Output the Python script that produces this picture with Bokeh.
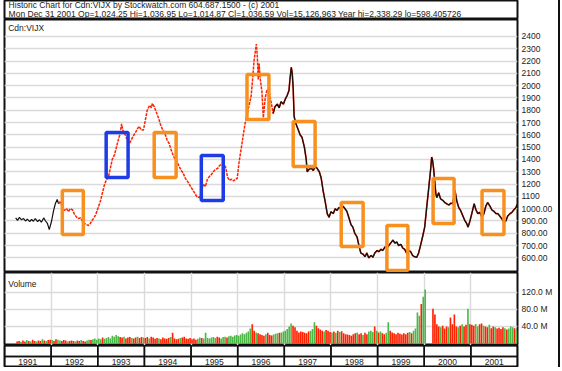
from bokeh.plotting import figure
from bokeh.layouts import column
from bokeh.models import Range1d, FixedTicker
from bokeh.embed import file_html
from bokeh.resources import INLINE
from bokeh.core.properties import value

# ---------------- data ----------------
title_lines = [
    "Historic Chart for Cdn:VIJX by Stockwatch.com 604.687.1500 - (c) 2001",
    "Mon Dec 31 2001  Op=1,024.25  Hi=1,036.95  Lo=1,014.87  Cl=1,036.59  Vol=15,126,963  Year hi=2,338.29  lo=598.405726",
]
symbol = "Cdn:VIJX"
volume_title = "Volume"
years = [1991, 1992, 1993, 1994, 1995, 1996, 1997, 1998, 1999, 2000, 2001]
year_labels = ["1991", "1992", "1993", "1994", "1995", "1996", "1997", "1998", "1999", "2000", "2001"]

price_ticks = [600, 700, 800, 900, 1000, 1100, 1200, 1300, 1400, 1500, 1600,
               1700, 1800, 1900, 2000, 2100, 2200, 2300, 2400]
price_tick_labels = ["600.00", "700.00", "800.00", "900.00", "1000.00", "1100", "1200",
                     "1300", "1400", "1500", "1600", "1700", "1800", "1900", "2000",
                     "2100", "2200", "2300", "2400"]
vol_ticks = [40, 80, 120]           # millions
vol_tick_labels = ["40.0 M", "80.0 M", "120.0 M"]

price_dates = [
    1991.24, 1991.28, 1991.32, 1991.36, 1991.41, 1991.45, 1991.49, 1991.54, 1991.58, 1991.62, 1991.66, 1991.71, 1991.75, 1991.79, 1991.84, 1991.88, 1991.92, 1991.96,
    1992.01, 1992.05, 1992.09, 1992.13, 1992.16, 1992.20, 1992.24, 1992.28, 1992.33, 1992.37, 1992.41, 1992.46, 1992.50, 1992.54, 1992.58, 1992.63, 1992.67, 1992.71, 1992.76, 1992.80, 1992.84, 1992.88, 1992.95,
    1993.01, 1993.06, 1993.10, 1993.14, 1993.18, 1993.23, 1993.27, 1993.31, 1993.36, 1993.40, 1993.44, 1993.48, 1993.51, 1993.55, 1993.59, 1993.63, 1993.68, 1993.72, 1993.76, 1993.81, 1993.85, 1993.89, 1993.93, 1993.98,
    1994.02, 1994.06, 1994.11, 1994.15, 1994.17, 1994.21, 1994.26, 1994.30, 1994.34, 1994.38, 1994.43, 1994.45, 1994.49, 1994.53, 1994.58, 1994.62, 1994.66, 1994.70, 1994.75, 1994.79, 1994.83, 1994.88, 1994.92, 1994.96,
    1995.00, 1995.04, 1995.09, 1995.13, 1995.18, 1995.22, 1995.26, 1995.31, 1995.35, 1995.39, 1995.44, 1995.48, 1995.52, 1995.57, 1995.61, 1995.65, 1995.69, 1995.74, 1995.78, 1995.82, 1995.87, 1995.91, 1995.95, 1995.99,
    1996.03, 1996.08, 1996.12, 1996.16, 1996.20, 1996.25, 1996.29, 1996.33, 1996.35, 1996.40, 1996.42, 1996.44, 1996.46, 1996.48, 1996.52, 1996.55, 1996.59, 1996.63, 1996.67, 1996.72, 1996.76, 1996.80, 1996.85, 1996.89, 1996.93, 1996.98,
    1997.02, 1997.06, 1997.10, 1997.12, 1997.15, 1997.17, 1997.19, 1997.21, 1997.25, 1997.30, 1997.34, 1997.38, 1997.43, 1997.47, 1997.49, 1997.53, 1997.58, 1997.62, 1997.66, 1997.70, 1997.75, 1997.79, 1997.83, 1997.88, 1997.92, 1997.96,
    1998.00, 1998.05, 1998.09, 1998.13, 1998.17, 1998.22, 1998.26, 1998.30, 1998.34, 1998.39, 1998.43, 1998.47, 1998.51, 1998.56, 1998.60, 1998.64, 1998.69, 1998.73, 1998.77, 1998.81, 1998.86, 1998.90, 1998.94, 1998.99,
    1999.03, 1999.07, 1999.11, 1999.16, 1999.20, 1999.24, 1999.28, 1999.33, 1999.37, 1999.41, 1999.45, 1999.50, 1999.54, 1999.58, 1999.62, 1999.67, 1999.71, 1999.75, 1999.79, 1999.84, 1999.88, 1999.92, 1999.97,
    2000.01, 2000.05, 2000.10, 2000.14, 2000.16, 2000.18, 2000.20, 2000.23, 2000.25, 2000.27, 2000.31, 2000.35, 2000.40, 2000.44, 2000.48, 2000.53, 2000.57, 2000.61, 2000.66, 2000.70, 2000.74, 2000.78, 2000.83, 2000.87, 2000.91, 2000.94, 2000.98,
    2001.02, 2001.07, 2001.11, 2001.15, 2001.19, 2001.24, 2001.28, 2001.32, 2001.36, 2001.41, 2001.45, 2001.49, 2001.54, 2001.58, 2001.62, 2001.66, 2001.71, 2001.75, 2001.79, 2001.84, 2001.88, 2001.92, 2001.97, 2001.99,
]
price_close = [
    925, 905, 930, 910, 920, 900, 915, 895, 912, 898, 920, 895, 910, 890, 925, 900, 880, 830,
    900, 980, 1040, 1075, 1040, 1060, 1010, 985, 1000, 975, 1000, 990, 955, 935, 920, 925, 900, 880, 870, 863, 880, 905, 945,
    1010, 1067, 1130, 1190, 1230, 1260, 1330, 1400, 1440, 1500, 1560, 1610, 1690, 1620, 1600, 1560, 1530, 1560, 1590, 1620, 1650, 1670, 1640, 1640,
    1720, 1800, 1840, 1820, 1855, 1830, 1780, 1740, 1690, 1650, 1620, 1600, 1555, 1530, 1470, 1430, 1400, 1380, 1340, 1310, 1290, 1245, 1225, 1200,
    1175, 1150, 1120, 1095, 1090, 1130, 1200, 1180, 1240, 1260, 1280, 1300, 1320, 1327, 1350, 1360, 1367, 1340, 1260, 1230, 1240, 1225, 1240, 1245,
    1380, 1500, 1600, 1693, 1760, 1850, 1920, 2100, 2200, 2338, 2250, 2050, 2180, 2067, 1950, 1740, 1900, 1970, 1960, 1860, 1774, 1830, 1850, 1820, 1870, 1850,
    1890, 1920, 1960, 2050, 2150, 2100, 1980, 1750, 1690, 1640, 1600, 1580, 1500, 1400, 1300, 1320, 1330, 1310, 1340, 1330, 1300, 1250, 1150, 1050, 960, 930,
    975, 960, 1000, 985, 1010, 995, 1020, 1000, 980, 920, 870, 850, 800, 770, 700, 640, 630, 610, 640, 600, 620, 605, 640, 660,
    650, 670, 660, 690, 680, 700, 720, 745, 720, 730, 700, 710, 680, 670, 640, 660, 650, 620, 610, 605, 640, 700, 780,
    850, 1000, 1180, 1330, 1420, 1390, 1330, 1200, 1120, 1090, 1130, 1080, 1067, 1050, 1040, 1030, 1045, 1040, 1148, 1060, 1010, 985, 940, 904, 880, 850, 900,
    960, 1040, 990, 960, 970, 930, 960, 1020, 1050, 1020, 990, 980, 960, 960, 940, 920, 890, 900, 940, 960, 970, 990, 1010, 1036.59,
]

# volume (millions), 24 periods per year; 1991 begins at period 6
vol_1991 = [5, 6, 4, 7, 5, 8, 6, 5, 9, 6, 5, 7, 6, 10, 7, 6, 8, 9]
vol_1992 = [8, 6, 10, 9, 7, 6, 8, 7, 5, 6, 7, 6, 5, 7, 6, 8, 6, 5, 7, 9, 8, 10, 12, 9]
vol_1993 = [12, 10, 14, 11, 13, 15, 12, 18, 16, 20, 17, 15, 14, 16, 12, 14, 15, 13, 12, 14, 16, 13, 15, 14]
vol_1994 = [13, 15, 12, 16, 14, 11, 13, 12, 10, 14, 12, 11, 13, 15, 25, 12, 10, 11, 13, 14, 16, 12, 11, 13]
vol_1995 = [10, 12, 9, 11, 14, 13, 12, 25, 13, 12, 14, 15, 13, 16, 14, 12, 15, 16, 14, 17, 18, 16, 19, 20]
vol_1996 = [18, 21, 24, 22, 25, 28, 35, 45, 30, 26, 24, 22, 20, 18, 22, 25, 20, 19, 21, 23, 24, 25, 26, 28]
vol_1997 = [30, 34, 40, 47, 42, 38, 30, 26, 28, 27, 25, 24, 28, 30, 34, 50, 42, 36, 33, 30, 28, 32, 30, 27]
vol_1998 = [26, 28, 25, 30, 27, 29, 24, 22, 21, 20, 18, 22, 24, 26, 22, 24, 20, 25, 22, 28, 30, 27, 40, 30]
vol_1999 = [26, 28, 24, 22, 25, 50, 30, 26, 24, 22, 25, 23, 21, 24, 22, 25, 27, 24, 30, 35, 73, 65, 93, 110]
vol_2000 = [127, 0, 0, 0, 82, 68, 45, 40, 38, 42, 35, 40, 38, 61, 45, 68, 40, 38, 42, 45, 40, 44, 82, 45]
vol_2001 = [44, 42, 46, 40, 45, 47, 42, 40, 38, 44, 36, 40, 38, 35, 37, 34, 38, 36, 33, 35, 40, 38, 36, 30]
vol_updown = {  # g = up period, r = down period
    1991: "rrgrrgrgrrgrrgrgrr",
    1992: "grrggrrrgrrrgrrgrrggrggg",
    1993: "ggrggggggggrrgrrrgrrgrrg",
    1994: "rrgrrrrgrrrrrgrrrrgrrrrr",
    1995: "rrrggrgggggggrrgggrggggg",
    1996: "gggggggrrgrrrrgrrrgggrgg",
    1997: "ggggrrrrrrrrrgggrrrrgrrr",
    1998: "grgrgrrrrrrrrgrrgrrgggrg",
    1999: "rgrrggrrrrrrrrrrgrggggrg",
    2000: "ggggrrrrgrrrgrrrrgrgrrgr",
    2001: "rrggrrgrrgrrgrrrrgrgggrg",
}

# highlighted periods (date range, price range)
box_start = [1992.24, 1993.18, 1994.21, 1995.22, 1996.20, 1997.19, 1998.22, 1999.20, 2000.19, 2001.24]
box_end   = [1992.69, 1993.65, 1994.68, 1995.69, 1996.67, 1997.66, 1998.69, 1999.65, 2000.64, 2001.71]
box_high  = [1148, 1620, 1620, 1433, 2091, 1709, 1050, 863, 1246, 1148]
box_low   = [790, 1254, 1254, 1067, 1725, 1343, 693, 498, 880, 790]
box_kind  = ["o", "b", "o", "b", "o", "o", "o", "o", "o", "o"]

# ---------------- styling ----------------
FONT = "Liberation Sans"
TXT = "#222222"
FS = "8.5px"
W = 558
LB, RB = 4, 41
RED, BLACK, GREEN = "#FF2200", "#111111", "#4DB848"
ORANGE, BLUE = "#F7901E", "#1E3CE6"
GRID = "#DADADA"


def panel(h, xr, yr, right_axis=False, lb=LB, rb=RB):
    p = figure(width=W, height=h, x_range=xr, y_range=yr, output_backend="svg",
               toolbar_location=None, x_axis_location=None,
               y_axis_location=("right" if right_axis else None),
               min_border_left=lb, min_border_right=rb, min_border_top=0, min_border_bottom=0)
    p.outline_line_color = BLACK
    p.outline_line_width = 2
    p.background_fill_color = "white"
    p.border_fill_color = "white"
    p.xgrid.visible = False
    p.ygrid.visible = False
    return p


def style_axis(ax, ticks, labels):
    ax.ticker = FixedTicker(ticks=ticks)
    ax.major_label_overrides = {t: s for t, s in zip(ticks, labels)}
    ax.axis_line_color = None
    ax.major_tick_line_color = None
    ax.minor_tick_line_color = None
    ax.major_tick_out = 0
    ax.major_tick_in = 0
    ax.minor_tick_out = 0
    ax.minor_tick_in = 0
    ax.major_label_standoff = 4
    ax.major_label_text_font = FONT
    ax.major_label_text_font_size = FS
    ax.major_label_text_color = TXT


# title strip
pt = panel(19, Range1d(0, 1), Range1d(0, 1), lb=0, rb=0)
pt.text(x=[0.008, 0.008], y=[0.74, 0.30], text=title_lines, text_font=value(FONT),
        text_font_size=FS, text_baseline="middle", text_color=TXT)

# price panel
x_end = years[-1] + 1
pp = panel(253, Range1d(years[0], x_end), Range1d(481.2, 2538.2), right_axis=True)
pp.ygrid.visible = True
pp.ygrid.ticker = FixedTicker(ticks=price_ticks)
pp.ygrid.grid_line_color = GRID
pp.ygrid.grid_line_width = 1.6
style_axis(pp.yaxis[0], price_ticks, price_tick_labels)

i_red0 = next(i for i, t in enumerate(price_dates) if t >= 1992.16)
i_blk0 = next(i for i, t in enumerate(price_dates) if t >= 1996.76)
pp.line(price_dates[:i_red0 + 1], price_close[:i_red0 + 1], line_color=BLACK, line_width=1.2)
pp.line(price_dates[i_red0:i_blk0 + 1], price_close[i_red0:i_blk0 + 1], line_color=RED,
        line_width=1.5, line_dash="3 1")
pp.line(price_dates[i_blk0:], price_close[i_blk0:], line_color=RED, line_width=1.6)
pp.line(price_dates[i_blk0:], price_close[i_blk0:], line_color=BLACK, line_width=1.25)

pp.quad(left=box_start, right=box_end, top=box_high, bottom=box_low, fill_color=None,
        line_color=[ORANGE if k == "o" else BLUE for k in box_kind], line_width=3.5)
pp.text(x=[years[0] + 0.08], y=[2470], text=[symbol], text_font=value(FONT),
        text_font_size=FS, text_baseline="middle", text_color=TXT)

# volume panel
vol_years = [vol_1991, vol_1992, vol_1993, vol_1994, vol_1995, vol_1996,
             vol_1997, vol_1998, vol_1999, vol_2000, vol_2001]
vx, vtop, vcol = [], [], []
for yr, vals in zip(years, vol_years):
    offset = 24 - len(vals)
    flags = vol_updown[yr]
    for i, v in enumerate(vals):
        vx.append(yr + (offset + i + 0.5) / 24)
        vtop.append(v)
        vcol.append(GREEN if flags[i] == "g" else RED)

pv = panel(73, pp.x_range, Range1d(-4.7, 167), right_axis=True)
pv.xgrid.visible = True
pv.xgrid.ticker = FixedTicker(ticks=years + [x_end])
pv.xgrid.grid_line_color = GRID
pv.xgrid.grid_line_width = 1.4
pv.ygrid.visible = True
pv.ygrid.ticker = FixedTicker(ticks=vol_ticks)
pv.ygrid.grid_line_color = GRID
pv.ygrid.grid_line_width = 1.4
style_axis(pv.yaxis[0], vol_ticks, vol_tick_labels)
pv.vbar(x=vx, top=vtop, bottom=0, width=0.85 / 24, fill_color=vcol, line_color=None)
pv.text(x=[years[0] + 0.08], y=[140], text=[volume_title], text_font=value(FONT),
        text_font_size=FS, text_baseline="middle", text_color=TXT)

# year strip
py = panel(22, pp.x_range, Range1d(0, 2))
py.quad(left=years, right=[y + 1 for y in years], bottom=0, top=1, fill_color=None,
        line_color=BLACK, line_width=1.5)
py.quad(left=years, right=[y + 1 for y in years], bottom=1, top=2, fill_color=None,
        line_color=BLACK, line_width=1.5)
py.text(x=[y + 0.5 for y in years], y=[0.5] * len(years), text=year_labels,
        text_font=value(FONT), text_font_size=FS, text_align="center",
        text_baseline="middle", text_color=TXT)

layout = column(pt, pp, pv, py, spacing=0, styles={"border-right": "2px solid #111111"})
open("out.html", "w").write(file_html(layout, INLINE))
